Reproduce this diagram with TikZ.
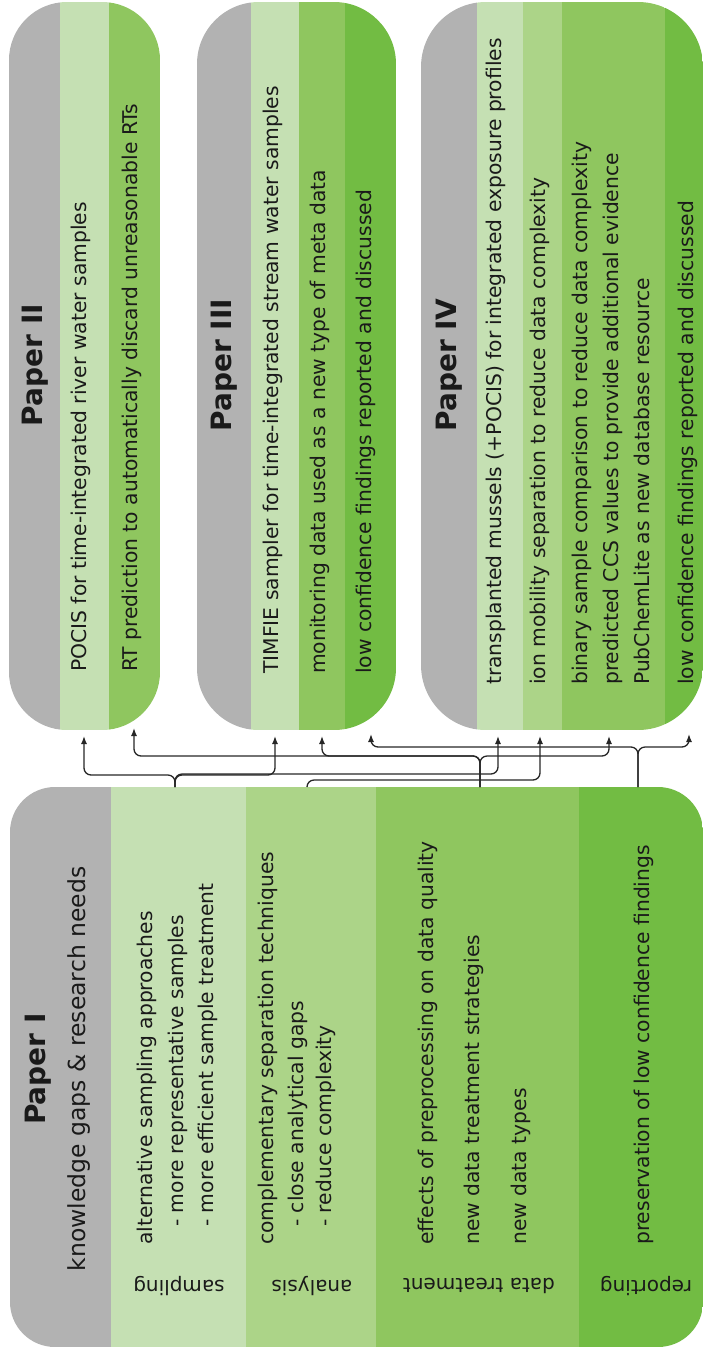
\documentclass[tikz,border=0pt]{standalone}
\usepackage{fontspec}
\setmainfont{DejaVu Sans}
\usetikzlibrary{arrows.meta,fit}
\definecolor{pgray}{HTML}{B2B2B2}
\definecolor{gA}{HTML}{C5E0B3}
\definecolor{gB}{HTML}{ACD488}
\definecolor{gC}{HTML}{8FC65F}
\definecolor{gD}{HTML}{72BC43}
\definecolor{txt}{HTML}{1A1A1A}
\begin{document}
\begin{tikzpicture}[x=1pt,y=-1pt,
  stripe/.style={inner sep=0pt,outer sep=0pt,draw=none},
  item/.style={rotate=90,anchor=mid west,inner sep=0pt,text=txt,font=\fontsize{20.3}{24}\selectfont},
  ttl/.style={rotate=90,anchor=center,inner sep=0pt,text=txt,font=\fontsize{28}{32}\selectfont\bfseries},
  subttl/.style={rotate=90,anchor=center,inner sep=0pt,text=txt,font=\fontsize{23.5}{28}\selectfont},
  lab/.style={rotate=180,anchor=center,inner sep=0pt,text=txt,font=\fontsize{20}{24}\selectfont},
  conn/.style={line width=1.3pt,draw=black!85,rounded corners=7pt,-{Latex[length=8pt,width=6pt]}}]
\useasboundingbox (0,0) rectangle (705,1353);

% ---------- Paper II ----------
\begin{scope}
\clip[rounded corners=58pt] (9,2) rectangle (160,730);
\node[stripe,fill=pgray,fit={(9,2)(60,730)}] (p2g) {};
\node[stripe,fill=gA,fit={(60,2)(109,730)}] (p2a) {};
\node[stripe,fill=gC,fit={(109,2)(160,730)}] (p2b) {};
\end{scope}
% ---------- Paper III ----------
\begin{scope}
\clip[rounded corners=62pt] (197,2) rectangle (396,730);
\node[stripe,fill=pgray,fit={(197,2)(251,730)}] (p3g) {};
\node[stripe,fill=gA,fit={(251,2)(299,730)}] (p3a) {};
\node[stripe,fill=gC,fit={(299,2)(345,730)}] (p3b) {};
\node[stripe,fill=gD,fit={(345,2)(396,730)}] (p3c) {};
\end{scope}
% ---------- Paper IV ----------
\begin{scope}
\clip[rounded corners=65pt] (421,2) rectangle (703,730);
\node[stripe,fill=pgray,fit={(421,2)(477,730)}] (p4g) {};
\node[stripe,fill=gA,fit={(477,2)(523,730)}] (p4a) {};
\node[stripe,fill=gB,fit={(523,2)(562,730)}] (p4b) {};
\node[stripe,fill=gC,fit={(562,2)(665,730)}] (p4c) {};
\node[stripe,fill=gD,fit={(665,2)(703,730)}] (p4d) {};
\end{scope}
% ---------- Paper I ----------
\begin{scope}
\clip[rounded corners=45pt] (10,787) rectangle (703,1347);
\node[stripe,fill=pgray,fit={(10,787)(111,1347)}] (p1g) {};
\node[stripe,fill=gA,fit={(111,787)(246,1347)}] (p1s) {};
\node[stripe,fill=gB,fit={(246,787)(376,1347)}] (p1a) {};
\node[stripe,fill=gC,fit={(376,787)(579,1347)}] (p1d) {};
\node[stripe,fill=gD,fit={(579,787)(703,1347)}] (p1r) {};
\end{scope}

% ---------- texts ----------
\node[ttl] (t2) at (35,365) {Paper II};
\node[item] (i2a) at (84,672) {POCIS for time-integrated river water samples};
\node[item] (i2b) at (135,672) {RT prediction to automatically discard unreasonable RTs};

\node[ttl] (t3) at (224,365) {Paper III};
\node[item] (i3a) at (276,674) {TIMFIE sampler for time-integrated stream water samples};
\node[item] (i3b) at (323,674) {monitoring data used as a new type of meta data};
\node[item] (i3c) at (369,674) {low confidence findings reported and discussed};

\node[ttl] (t4) at (449,365) {Paper IV};
\node[item] (i4a) at (499,685) {transplanted mussels (+POCIS) for integrated exposure profiles};
\node[item] (i4b) at (543,685) {ion mobility separation to reduce data complexity};
\node[item] (i4c) at (585,685) {binary sample comparison to reduce data complexity};
\node[item] (i4d) at (616,685) {predicted CCS values to provide additional evidence};
\node[item] (i4e) at (647,685) {PubChemLite as new database resource};
\node[item] (i4f) at (691,685) {low confidence findings reported and discussed};

\node[ttl] (t1) at (38,1069) {Paper I};
\node[subttl] (t1s) at (79,1069) {knowledge gaps \& research needs};
\node[item] (i1a) at (150,1245) {alternative sampling approaches};
\node[item] (i1a1) at (181,1227) {- more representative samples};
\node[item] (i1a2) at (211,1227) {- more efficient sample treatment};
\node[item] (i1b) at (271,1245) {complementary separation techniques};
\node[item] (i1b1) at (301,1227) {- close analytical gaps};
\node[item] (i1b2) at (329,1227) {- reduce complexity};
\node[item] (i1c) at (431,1245) {effects of preprocessing on data quality};
\node[item] (i1c2) at (477,1245) {new data treatment strategies};
\node[item] (i1c3) at (524,1245) {new data types};
\node[item] (i1d) at (647,1245) {preservation of low confidence findings};

\node[lab] (l1) at (179,1286) {sampling};
\node[lab] (l2) at (312,1286) {analysis};
\node[lab] (l3) at (479,1286) {data treatment};
\node[lab] (l4) at (646,1286) {reporting};

% ---------- connector ends ----------
\coordinate (tA) at (84,736);
\coordinate (tB) at (275,736);
\coordinate (tC) at (498,736);
\coordinate (tD) at (540,736);
\coordinate (tE) at (134,728);
\coordinate (tF) at (322,736);
\coordinate (tG) at (609,736);
\coordinate (tH) at (371,734);
\coordinate (tI) at (689,734);
\coordinate (sS) at (175,787);
\coordinate (sA) at (307,787);
\coordinate (sD) at (480,787);
\coordinate (sR) at (638,787);

% sampling
\draw[conn] (sS) |- (tA |- 0,775) -- (tA);
\draw[conn] (sS) |- (tB |- 0,775) -- (tB);
\draw[conn] (sS) |- (tC |- 0,774) -- (tC);
% analysis
\draw[conn] (sA) |- (tD |- 0,780) -- (tD);
% data treatment
\draw[conn] (sD) |- (tE |- 0,756) -- (tE);
\draw[conn] (sD) |- (tF |- 0,756) -- (tF);
\draw[conn] (sD) |- (tG |- 0,756) -- (tG);
% reporting
\draw[conn] (sR) |- (tH |- 0,747) -- (tH);
\draw[conn] (sR) |- (tI |- 0,747) -- (tI);
\end{tikzpicture}
\end{document}
